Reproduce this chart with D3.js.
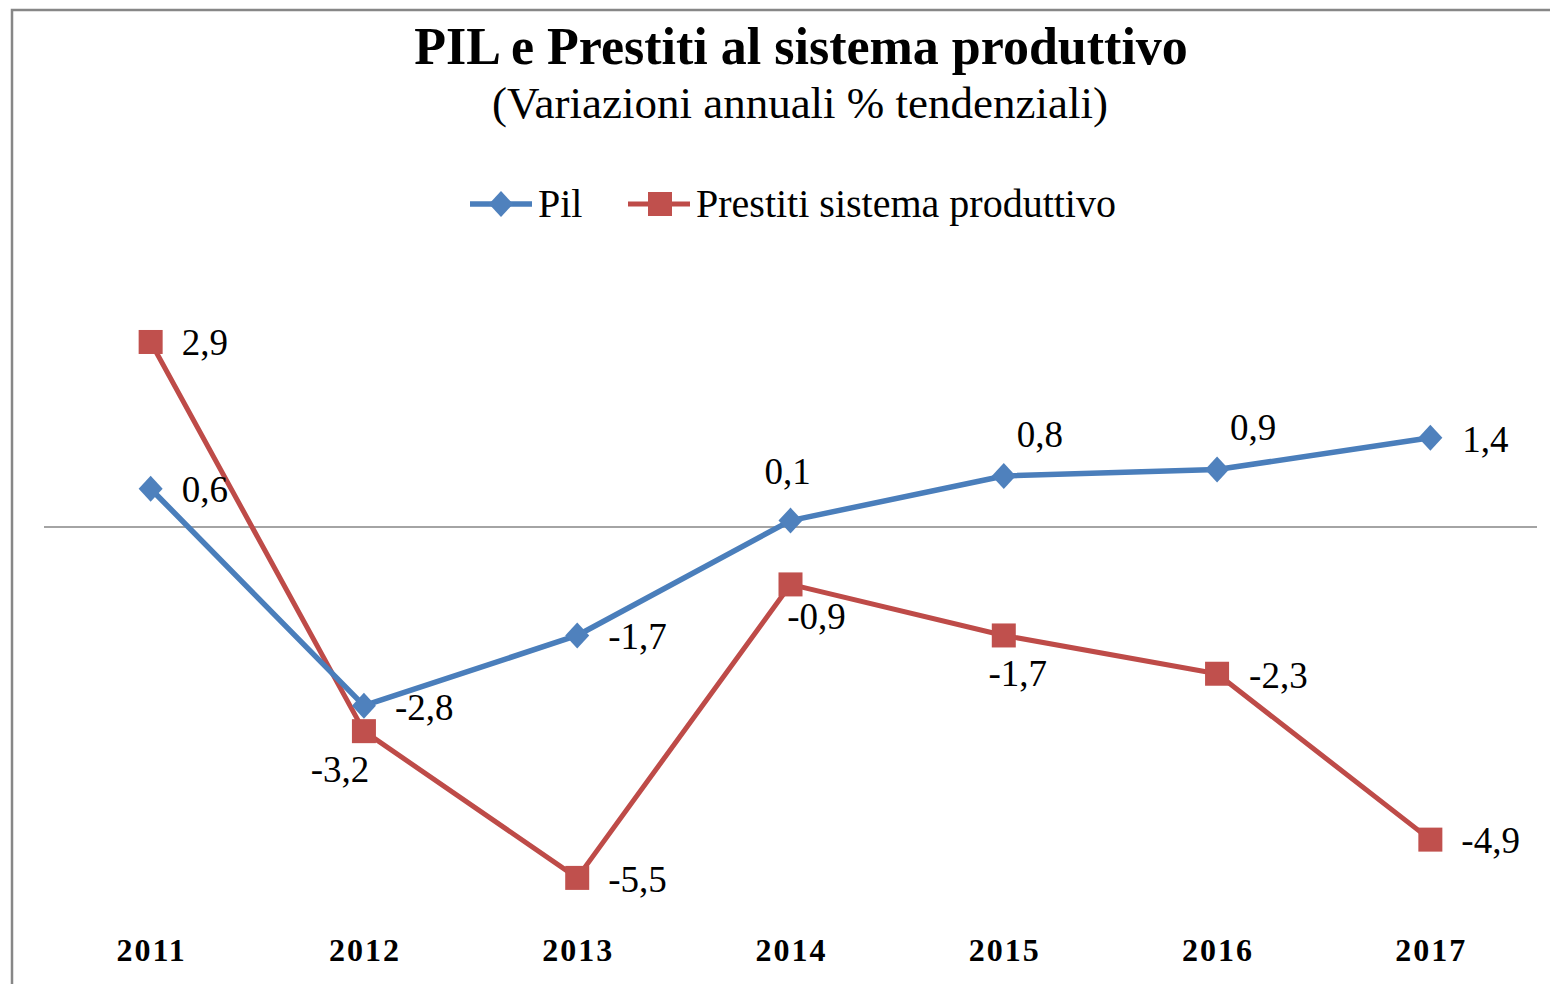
<!DOCTYPE html>
<html>
<head>
<meta charset="utf-8">
<script src="https://cdn.jsdelivr.net/npm/d3@7"></script>
<style>
  body { margin: 0; background: #fff; }
  svg { display: block; }
</style>
</head>
<body>
<div id="chart"></div>
<script>
// data
var years = ["2011", "2012", "2013", "2014", "2015", "2016", "2017"];
var pil = [0.6, -2.8, -1.7, 0.1, 0.8, 0.9, 1.4];
var prestiti = [2.9, -3.2, -5.5, -0.9, -1.7, -2.3, -4.9];
var seriesNames = ["Pil", "Prestiti sistema produttivo"];

// label placement per point (style only): [dx, dy, anchor]
var pilLabelPos = [[31, 13, "start"], [31, 14, "start"], [31, 14, "start"], [-3, -37, "middle"],
                   [36, -29, "middle"], [36, -30, "middle"], [32, 14, "start"]];
var prestLabelPos = [[31, 13, "start"], [-24, 51, "middle"], [31, 14, "start"], [26, 45, "middle"],
                     [14, 51, "middle"], [32, 14, "start"], [31, 13, "start"]];

var width = 1550, height = 984;
var margin = {left: 44, right: 13};
var blue = "#4A7EBB", blueMark = "#4F81BD";
var red = "#BE4B48", redMark = "#C0504D";
var serif = "'Liberation Serif', 'Times New Roman', serif";

var svg = d3.select("#chart").append("svg")
    .attr("width", width)
    .attr("height", height);

// chart frame (runs past the right and bottom edges)
svg.append("rect")
    .attr("x", 12).attr("y", 10)
    .attr("width", 1700).attr("height", 1200)
    .attr("fill", "none")
    .attr("stroke", "#878787")
    .attr("stroke-width", 2.5);

var x = d3.scaleBand()
    .domain(years)
    .range([margin.left, width - margin.right]);

var y = d3.scaleLinear()
    .domain([-6, 3])
    .range([909.8, 335.6]);

var cx = d => x(d) + x.bandwidth() / 2;

// zero line
svg.append("line")
    .attr("x1", margin.left).attr("x2", width - margin.right)
    .attr("y1", y(0)).attr("y2", y(0))
    .attr("stroke", "#868686")
    .attr("stroke-width", 1.5);

// year labels
svg.append("g")
    .selectAll("text")
    .data(years)
    .join("text")
    .attr("x", d => cx(d) + 1)
    .attr("y", 961)
    .attr("text-anchor", "middle")
    .style("font", "bold 32px " + serif)
    .style("letter-spacing", "2px")
    .text(d => d);

var line = d3.line()
    .x((d, i) => cx(years[i]))
    .y(d => y(d));

var diamond = "M0,-13L12,0L0,13L-12,0Z";

function drawSeries(vals, lineColor, markColor, lw, marker, labelPos) {
    svg.append("path")
        .datum(vals)
        .attr("fill", "none")
        .attr("stroke", lineColor)
        .attr("stroke-width", lw)
        .attr("stroke-linejoin", "round")
        .attr("d", line);

    var g = svg.append("g");
    if (marker === "diamond") {
        g.selectAll("path")
            .data(vals)
            .join("path")
            .attr("transform", (d, i) => `translate(${cx(years[i])},${y(d)})`)
            .attr("d", diamond)
            .attr("fill", markColor);
    } else {
        g.selectAll("rect")
            .data(vals)
            .join("rect")
            .attr("x", (d, i) => cx(years[i]) - 12)
            .attr("y", d => y(d) - 12)
            .attr("width", 24).attr("height", 24)
            .attr("fill", markColor);
    }

    svg.append("g")
        .selectAll("text")
        .data(vals)
        .join("text")
        .attr("x", (d, i) => cx(years[i]) + labelPos[i][0])
        .attr("y", (d, i) => y(d) + labelPos[i][1])
        .attr("text-anchor", (d, i) => labelPos[i][2])
        .style("font", "37px " + serif)
        .text(d => d3.format(".1f")(d).replace(".", ",").replace("−", "-"));
}

drawSeries(prestiti, red, redMark, 5, "square", prestLabelPos);
drawSeries(pil, blue, blueMark, 5.5, "diamond", pilLabelPos);

// title
svg.append("text")
    .attr("x", 801).attr("y", 64)
    .attr("text-anchor", "middle")
    .style("font", "bold 52px " + serif)
    .text("PIL e Prestiti al sistema produttivo");

svg.append("text")
    .attr("x", 800).attr("y", 118)
    .attr("text-anchor", "middle")
    .style("font", "45px " + serif)
    .text("(Variazioni annuali % tendenziali)");

// legend
var legend = svg.append("g");
var legendItems = [
    {name: seriesNames[0], x0: 470, color: blue, mark: blueMark, type: "diamond"},
    {name: seriesNames[1], x0: 628, color: red, mark: redMark, type: "square"}
];
legendItems.forEach(it => {
    legend.append("line")
        .attr("x1", it.x0).attr("x2", it.x0 + 62)
        .attr("y1", 204).attr("y2", 204)
        .attr("stroke", it.color)
        .attr("stroke-width", it.type === "diamond" ? 5.5 : 5);
    if (it.type === "diamond") {
        legend.append("path")
            .attr("transform", `translate(${it.x0 + 31},204)`)
            .attr("d", diamond)
            .attr("fill", it.mark);
    } else {
        legend.append("rect")
            .attr("x", it.x0 + 20).attr("y", 192)
            .attr("width", 24).attr("height", 24)
            .attr("fill", it.mark);
    }
    legend.append("text")
        .attr("x", it.x0 + 68).attr("y", 217)
        .style("font", "40px " + serif)
        .text(it.name);
});
</script>
</body>
</html>
